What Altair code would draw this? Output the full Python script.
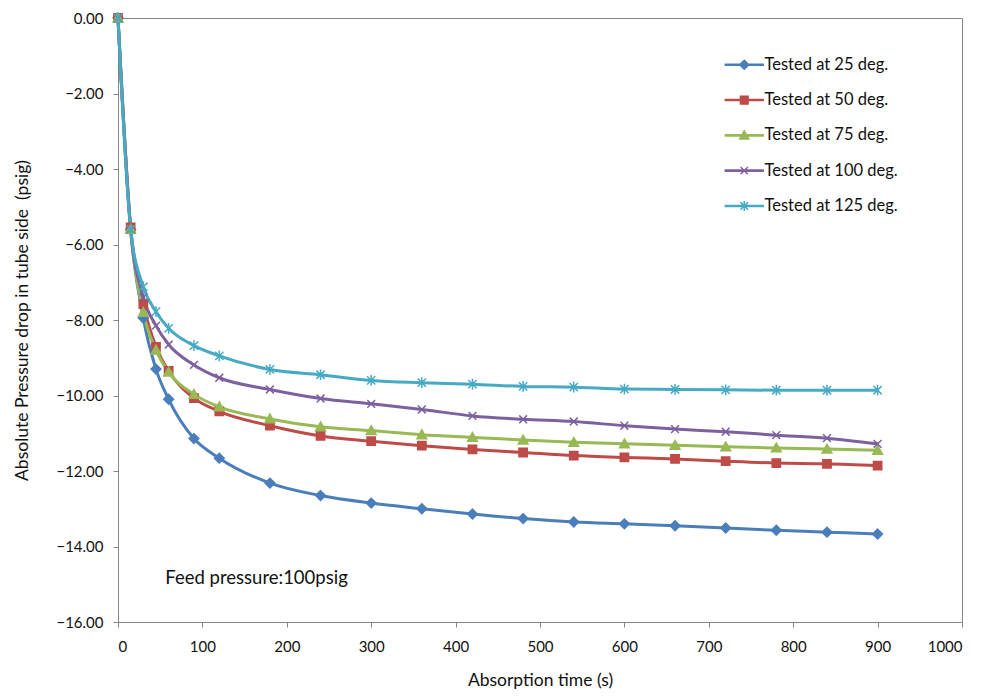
import altair as alt
import pandas as pd

# Absorption time (s) at which each pressure reading was taken
time_s = [0, 15, 30, 45, 60, 90, 120, 180, 240, 300, 360, 420, 480, 540, 600, 660, 720, 780, 840, 900]

# Absolute pressure drop in tube side (psig) for each test temperature
p25 = [0, -5.60, -7.95, -9.30, -10.10, -11.14, -11.66, -12.32, -12.65, -12.85, -13.00, -13.14, -13.26,
       -13.35, -13.40, -13.45, -13.51, -13.57, -13.62, -13.67]
p50 = [0, -5.55, -7.58, -8.71, -9.35, -10.07, -10.42, -10.80, -11.07, -11.21, -11.33, -11.43, -11.51,
       -11.59, -11.64, -11.68, -11.74, -11.79, -11.81, -11.86]
p75 = [0, -5.60, -7.80, -8.80, -9.38, -9.97, -10.30, -10.62, -10.83, -10.93, -11.04, -11.11, -11.18,
       -11.24, -11.28, -11.32, -11.36, -11.39, -11.42, -11.45]
p100 = [0, -5.60, -7.40, -8.15, -8.65, -9.19, -9.53, -9.84, -10.08, -10.22, -10.37, -10.54, -10.63,
        -10.69, -10.80, -10.89, -10.96, -11.05, -11.13, -11.28]
p125 = [0, -5.60, -7.12, -7.78, -8.22, -8.68, -8.95, -9.31, -9.45, -9.60, -9.66, -9.70, -9.76,
        -9.78, -9.83, -9.84, -9.85, -9.86, -9.86, -9.86]

series_names = ["Tested at 25 deg.", "Tested at 50 deg.", "Tested at 75 deg.",
                "Tested at 100 deg.", "Tested at 125 deg."]
series_values = [p25, p50, p75, p100, p125]
series_colors = ["#4A7EBB", "#BE4B48", "#98B954", "#7D60A0", "#46AAC5"]

# Marker outlines in a -1..1 box: diamond, square, triangle, x, asterisk
marker_paths = [
    "M0,-1L1,0L0,1L-1,0Z",
    "M-0.85,-0.85L0.85,-0.85L0.85,0.85L-0.85,0.85Z",
    "M0,-1L1,0.8L-1,0.8Z",
    "M-0.8,-0.8L0.8,0.8M-0.8,0.8L0.8,-0.8",
    "M-0.85,-0.85L0.85,0.85M-0.85,0.85L0.85,-0.85M0,-1.1L0,1.1",
]
# Legend keys: a short line segment with the series marker on it
legend_line = "M-4.2,-0.12L4.2,-0.12L4.2,0.12L-4.2,0.12Z"
legend_paths = [legend_line + p for p in marker_paths]

rows = []
for name, vals in zip(series_names, series_values):
    for t, v in zip(time_s, vals):
        rows.append({"time": t, "pressure": v, "series": name})
df = pd.DataFrame(rows)

FONT = "Lato"
TEXT = "#111111"

x_enc = alt.X("time:Q", title="Absorption time (s)",
              scale=alt.Scale(domain=[0, 1000], nice=False),
              axis=alt.Axis(values=list(range(0, 1001, 100)), format="d", labelAngle=0,
                            labelPadding=12, titlePadding=17))
y_enc = alt.Y("pressure:Q", title="Absolute Pressure drop in tube side\u00a0\u00a0(psig)",
              scale=alt.Scale(domain=[-16, 0], nice=False),
              axis=alt.Axis(values=list(range(-16, 1, 2)), format=".2f",
                            labelPadding=10, titlePadding=24))

color_scale = alt.Scale(domain=series_names, range=series_colors)

base = alt.Chart(df)

lines = base.mark_line(interpolate="monotone", strokeWidth=3).encode(
    x=x_enc, y=y_enc,
    color=alt.Color("series:N", scale=color_scale, legend=None),
    detail="series:N",
)

points = base.mark_point(filled=True, size=95, strokeWidth=1.5, opacity=1).encode(
    x=x_enc, y=y_enc,
    fill=alt.Fill("series:N", scale=color_scale, legend=None),
    stroke=alt.Stroke("series:N", scale=color_scale, legend=None),
    shape=alt.Shape("series:N", scale=alt.Scale(domain=series_names, range=marker_paths), legend=None),
)

legend_layer = base.transform_filter("datum.time < 0").mark_point(
    filled=True, size=81, strokeWidth=1.5, opacity=1
).encode(
    x=x_enc, y=y_enc,
    fill=alt.Fill("series:N", scale=color_scale, legend=alt.Legend(title=None)),
    stroke=alt.Stroke("series:N", scale=color_scale, legend=alt.Legend(title=None)),
    shape=alt.Shape("series:N", scale=alt.Scale(domain=series_names, range=legend_paths),
                    legend=alt.Legend(title=None)),
)

note = alt.Chart(pd.DataFrame({"time": [56], "pressure": [-14.83], "label": ["Feed pressure:100psig"]})).mark_text(
    align="left", baseline="middle", font=FONT, fontSize=18.5, color=TEXT
).encode(x="time:Q", y="pressure:Q", text="label:N")

chart = alt.layer(lines, points, legend_layer, note).resolve_scale(
    color="independent", fill="independent", stroke="independent", shape="independent"
).properties(
    width=844, height=604,
    autosize=alt.AutoSizeParams(type="none"),
    padding={"left": 118, "top": 18, "right": 23, "bottom": 76},
).configure_view(
    stroke="#868686", strokeWidth=1
).configure_axis(
    grid=False, domainColor="#868686", tickColor="#868686", tickSize=5,
    labelFont=FONT, labelFontSize=15, labelColor=TEXT,
    titleFont=FONT, titleFontSize=17.5, titleFontWeight="normal", titleColor=TEXT,
).configure_legend(
    orient="none", legendX=618, legendY=38.5, symbolSize=81, rowPadding=18.3,
    labelFont=FONT, labelFontSize=16.5, labelColor=TEXT, labelOffset=12,
    padding=0, symbolStrokeWidth=1.5,
)

chart.save("out.html", embed_options={"renderer": "svg", "actions": False})
